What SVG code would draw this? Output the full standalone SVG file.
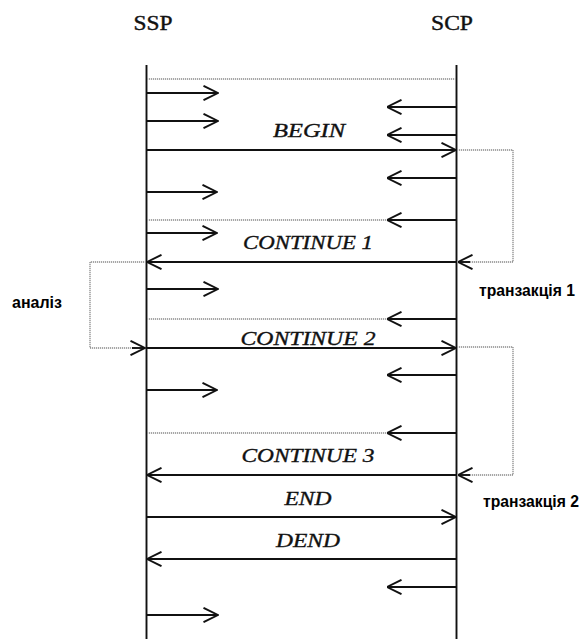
<svg xmlns="http://www.w3.org/2000/svg" width="582" height="639" viewBox="0 0 582 639">
  <defs>
    <marker id="arr" viewBox="0 0 16 16" refX="15.5" refY="8" markerWidth="16" markerHeight="16" markerUnits="userSpaceOnUse" orient="auto">
      <path d="M1,0.8 L15.5,8 L1,15.2" fill="none" stroke="#111" stroke-width="1.9"/>
    </marker>
    <style>
      .life { stroke: #111; stroke-width: 1.9; fill: none; }
      .msg { stroke: #111; stroke-width: 1.9; fill: none; marker-end: url(#arr); }
      .dot { stroke: #8a8a8a; stroke-width: 1.3; stroke-dasharray: 1.2 0.8; fill: none; }
      .loop { stroke: #8a8a8a; stroke-width: 1.3; stroke-dasharray: 1.2 0.8; fill: none; }
      .head { font-family: "Liberation Serif", "Times New Roman", serif; font-size: 20px; fill: #111; stroke: #111; stroke-width: 0.4; text-anchor: middle; }
      .lbl { font-family: "Liberation Serif", "Times New Roman", serif; font-style: italic; font-size: 19px; fill: #111; stroke: #111; stroke-width: 0.35; text-anchor: middle; }
      .note { font-family: "Liberation Sans", Arial, sans-serif; font-weight: bold; font-size: 16px; fill: #000; }
    </style>
  </defs>
  <rect width="582" height="639" fill="#fff"/>

  <!-- lifelines -->
  <g id="ssp">
    <text class="head" x="153" y="30" textLength="39" lengthAdjust="spacingAndGlyphs">SSP</text>
    <line class="life" x1="146.5" y1="65" x2="146.5" y2="639"/>
  </g>
  <g id="scp">
    <text class="head" x="452" y="30" textLength="42" lengthAdjust="spacingAndGlyphs">SCP</text>
    <line class="life" x1="456.5" y1="65" x2="456.5" y2="639"/>
  </g>

  <!-- side notes -->
  <g id="note-analysis">
    <text class="note" x="12" y="308" textLength="50" lengthAdjust="spacingAndGlyphs">аналіз</text>
  </g>
  <g id="note-t1">
    <text class="note" x="479" y="296" textLength="96" lengthAdjust="spacingAndGlyphs">транзакція 1</text>
  </g>
  <g id="note-t2">
    <text class="note" x="483" y="507" textLength="96" lengthAdjust="spacingAndGlyphs">транзакція 2</text>
  </g>

  <!-- message labels -->
  <g id="labels">
    <text class="lbl" x="309" y="137" textLength="72" lengthAdjust="spacingAndGlyphs">BEGIN</text>
    <text class="lbl" x="308" y="249" textLength="130" lengthAdjust="spacingAndGlyphs">CONTINUE 1</text>
    <text class="lbl" x="308" y="345" textLength="135" lengthAdjust="spacingAndGlyphs">CONTINUE 2</text>
    <text class="lbl" x="308" y="462" textLength="133" lengthAdjust="spacingAndGlyphs">CONTINUE 3</text>
    <text class="lbl" x="308" y="505" textLength="47" lengthAdjust="spacingAndGlyphs">END</text>
    <text class="lbl" x="308" y="547" textLength="64" lengthAdjust="spacingAndGlyphs">DEND</text>
  </g>

  <g id="connectors">
    <!-- dotted separators -->
    <line class="dot" x1="147" y1="79" x2="456" y2="79"/>
    <line class="dot" x1="147" y1="220" x2="390" y2="220"/>
    <line class="dot" x1="147" y1="319" x2="390" y2="319"/>
    <line class="dot" x1="147" y1="433" x2="390" y2="433"/>

    <!-- dotted loops -->
    <path class="loop" d="M457,150 H513 V262 H466"/>
    <path class="loop" d="M146,262 H90 V348 H136"/>
    <path class="loop" d="M457,347 H513 V475 H466"/>
    <path class="msg" d="M470,262 H458" stroke="none"/>
    <path class="msg" d="M132,348 H145" stroke="none"/>
    <path class="msg" d="M470,475 H458" stroke="none"/>

    <!-- short local arrows -->
    <line class="msg" x1="147" y1="93" x2="218" y2="93"/>
    <line class="msg" x1="456" y1="107" x2="387" y2="107"/>
    <line class="msg" x1="147" y1="121" x2="218" y2="121"/>
    <line class="msg" x1="456" y1="135" x2="387" y2="135"/>
    <line class="msg" x1="456" y1="178" x2="387" y2="178"/>
    <line class="msg" x1="147" y1="192" x2="217" y2="192"/>
    <line class="msg" x1="456" y1="220" x2="387" y2="220"/>
    <line class="msg" x1="147" y1="233" x2="217" y2="233"/>
    <line class="msg" x1="147" y1="289" x2="218" y2="289"/>
    <line class="msg" x1="456" y1="319" x2="387" y2="319"/>
    <line class="msg" x1="456" y1="375" x2="387" y2="375"/>
    <line class="msg" x1="147" y1="390" x2="217" y2="390"/>
    <line class="msg" x1="456" y1="433" x2="387" y2="433"/>
    <line class="msg" x1="456" y1="587" x2="387" y2="587"/>
    <line class="msg" x1="147" y1="615" x2="218" y2="615"/>

    <!-- main messages -->
    <line class="msg" x1="147" y1="150" x2="456" y2="150"/>
    <line class="msg" x1="456" y1="262" x2="147" y2="262"/>
    <line class="msg" x1="147" y1="348" x2="456" y2="348"/>
    <line class="msg" x1="456" y1="475" x2="147" y2="475"/>
    <line class="msg" x1="147" y1="517" x2="456" y2="517"/>
    <line class="msg" x1="456" y1="559" x2="147" y2="559"/>
  </g>
</svg>
